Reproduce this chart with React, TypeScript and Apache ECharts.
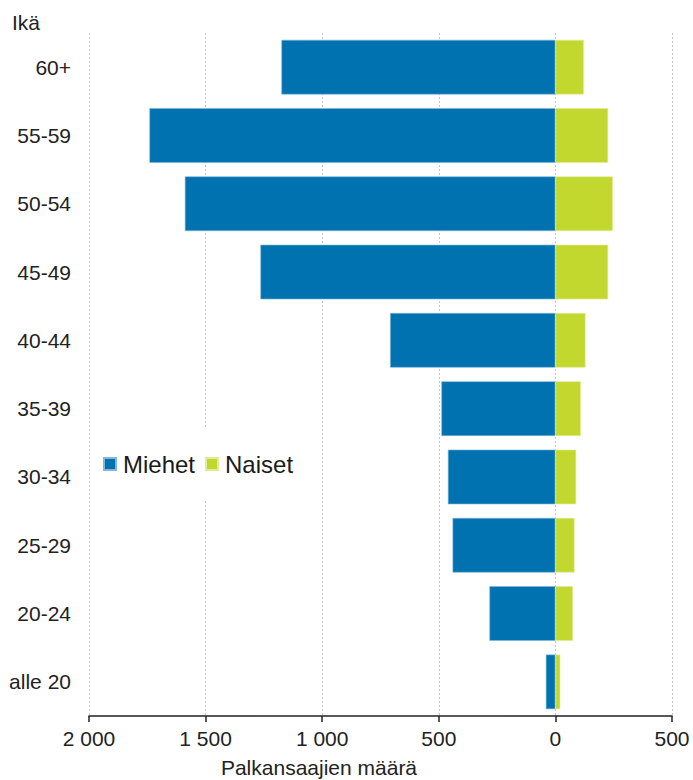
import React, { useEffect, useRef } from "react";
import * as echarts from "echarts";

const categories = ["alle 20", "20-24", "25-29", "30-34", "35-39", "40-44", "45-49", "50-54", "55-59", "60+"];
const miehet = [41, 283, 441, 461, 489, 709, 1265, 1589, 1741, 1175];
const naiset = [21, 75, 82, 89, 109, 129, 226, 246, 226, 122];
const xTicks = [-2000, -1500, -1000, -500, 0, 500];

const FONT = "'Liberation Sans', Arial, sans-serif";

function fmt(v: number): string {
  const a = Math.abs(v);
  if (a >= 1000) {
    const s = String(a);
    return s.slice(0, s.length - 3) + " " + s.slice(s.length - 3);
  }
  return String(a);
}

export default function App() {
  const ref = useRef<HTMLDivElement>(null);
  useEffect(() => {
    document.body.style.margin = "0";
    document.body.style.overflow = "hidden";
    if (!ref.current) return;
    const chart = echarts.init(ref.current, null, { renderer: "svg" });
    chart.setOption({
      animation: false,
      backgroundColor: "#fff",
      textStyle: { fontFamily: FONT },
      grid: { left: 89, right: 21, top: 33, bottom: 64, containLabel: false },
      legend: {
        left: 95,
        top: 427,
        padding: [25, 10, 25, 8],
        backgroundColor: "#fff",
        itemWidth: 12,
        itemHeight: 12,
        itemGap: 10,
        icon: "rect",
        textStyle: { fontSize: 24, color: "#1a1a1a", fontFamily: FONT, padding: [0, 0, 0, 2] },
        data: ["Miehet", "Naiset"],
        z: 10,
      },
      xAxis: {
        type: "value",
        min: -2000,
        max: 500,
        interval: 500,
        axisLine: { show: true, onZero: false, lineStyle: { color: "#222", width: 1.5 } },
        axisTick: { show: true, length: 6, lineStyle: { color: "#222", width: 1.5 } },
        axisLabel: {
          fontSize: 21,
          color: "#222",
          margin: 12,
          formatter: (v: number) => (xTicks.indexOf(v) >= 0 ? fmt(v) : ""),
        },
        splitLine: { show: true, lineStyle: { color: "#c8c8c8", type: [2, 2], width: 1 } },
      },
      yAxis: {
        type: "category",
        data: categories,
        axisLine: { show: false },
        axisTick: { show: false },
        axisLabel: { fontSize: 21, color: "#222", margin: 18 },
        splitLine: { show: false },
      },
      graphic: [
        {
          type: "text",
          left: 12,
          top: 12,
          style: { text: "Ikä", fontSize: 21, fill: "#222", fontFamily: FONT },
        },
        {
          type: "text",
          x: 319,
          y: 767,
          style: {
            text: "Palkansaajien määrä",
            fontSize: 21,
            fill: "#222",
            fontFamily: FONT,
            align: "center",
            verticalAlign: "middle",
          },
        },
      ],
      series: [
        {
          name: "Miehet",
          type: "bar",
          stack: "total",
          barWidth: "80%",
          itemStyle: { color: "#0072b0", borderColor: "#7fb8d8", borderWidth: 0.6 },
          data: miehet.map((v) => -v),
        },
        {
          name: "Naiset",
          type: "bar",
          stack: "total",
          barWidth: "80%",
          itemStyle: { color: "#c2d82f", borderColor: "#e0ec97", borderWidth: 0.6 },
          data: naiset,
        },
      ],
    });
    return () => chart.dispose();
  }, []);
  return <div ref={ref} style={{ position: "absolute", left: 0, top: 0, width: 693, height: 780 }} />;
}
